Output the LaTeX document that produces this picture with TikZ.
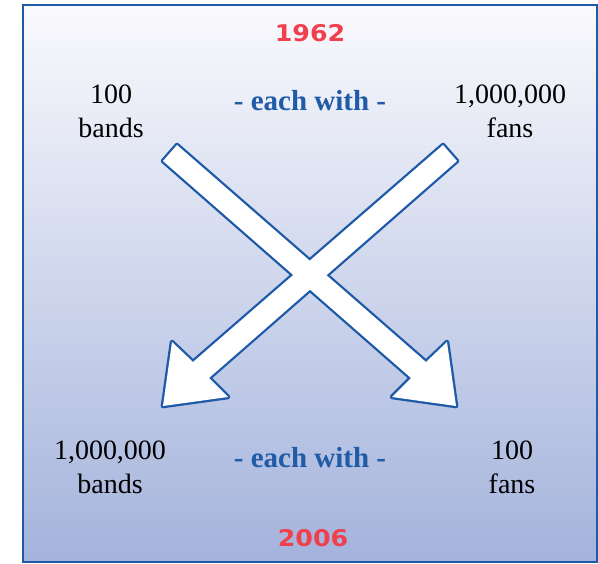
\documentclass[tikz,border=0pt]{standalone}
\usepackage{fontspec}
\setmainfont{Liberation Serif}
\newfontfamily\yearfont{DejaVu Sans}
\definecolor{frameblue}{HTML}{1E5AA8}
\definecolor{textblue}{HTML}{1F5BA6}
\definecolor{yearred}{HTML}{F0404E}
\definecolor{bgtop}{HTML}{FAFAFD}
\definecolor{bgbottom}{HTML}{A4B3DC}
\tikzset{
  label/.style={font=\fontsize{28}{34}\selectfont, align=center, inner sep=0pt},
  conn/.style={font=\fontsize{29}{32}\selectfont\bfseries, text=textblue, inner sep=0pt},
  year/.style={font=\yearfont\bfseries\fontsize{23}{23}\selectfont, text=yearred, xscale=1.1, inner sep=0pt},
  arrowline/.style={draw=frameblue, line width=4.6pt, line join=round},
  arrowfill/.style={fill=white}
}
\begin{document}
\begin{tikzpicture}[x=1pt,y=-1pt]
\useasboundingbox (0,0) rectangle (598,564);
% background panel with vertical gradient
\shade[top color=bgtop, bottom color=bgbottom] (23,5) rectangle (597,562);
\draw[frameblue, line width=2.8pt] (23,5) rectangle (597,562);

% arrow outlines (drawn wide, then filled to leave the outer half)
\def\arrowA{(163,161) -- (177,145) -- (426,362) -- (447,342) -- (456,406) -- (392,397) -- (411,378) -- cycle}
\def\arrowB{(443,145) -- (457,161) -- (209,378) -- (228,397) -- (163,406) -- (172,342) -- (193,362) -- cycle}
\draw[arrowline] \arrowA;
\draw[arrowline] \arrowB;
\fill[arrowfill] \arrowA;
\fill[arrowfill] \arrowB;

% years
\node[year] (y1962) at (310,33) {1962};
\node[year] (y2006) at (313,538) {2006};

% top row
\node[label] (tl) at (111,111) {100\\bands};
\node[label] (tr) at (510,111) {1,000,000\\fans};
\node[conn] (tc) at (310,101) {- each with -};

% bottom row
\node[label] (bl) at (110,467) {1,000,000\\bands};
\node[label] (br) at (512,467) {100\\fans};
\node[conn] (bc) at (310,458) {- each with -};
\end{tikzpicture}
\end{document}
